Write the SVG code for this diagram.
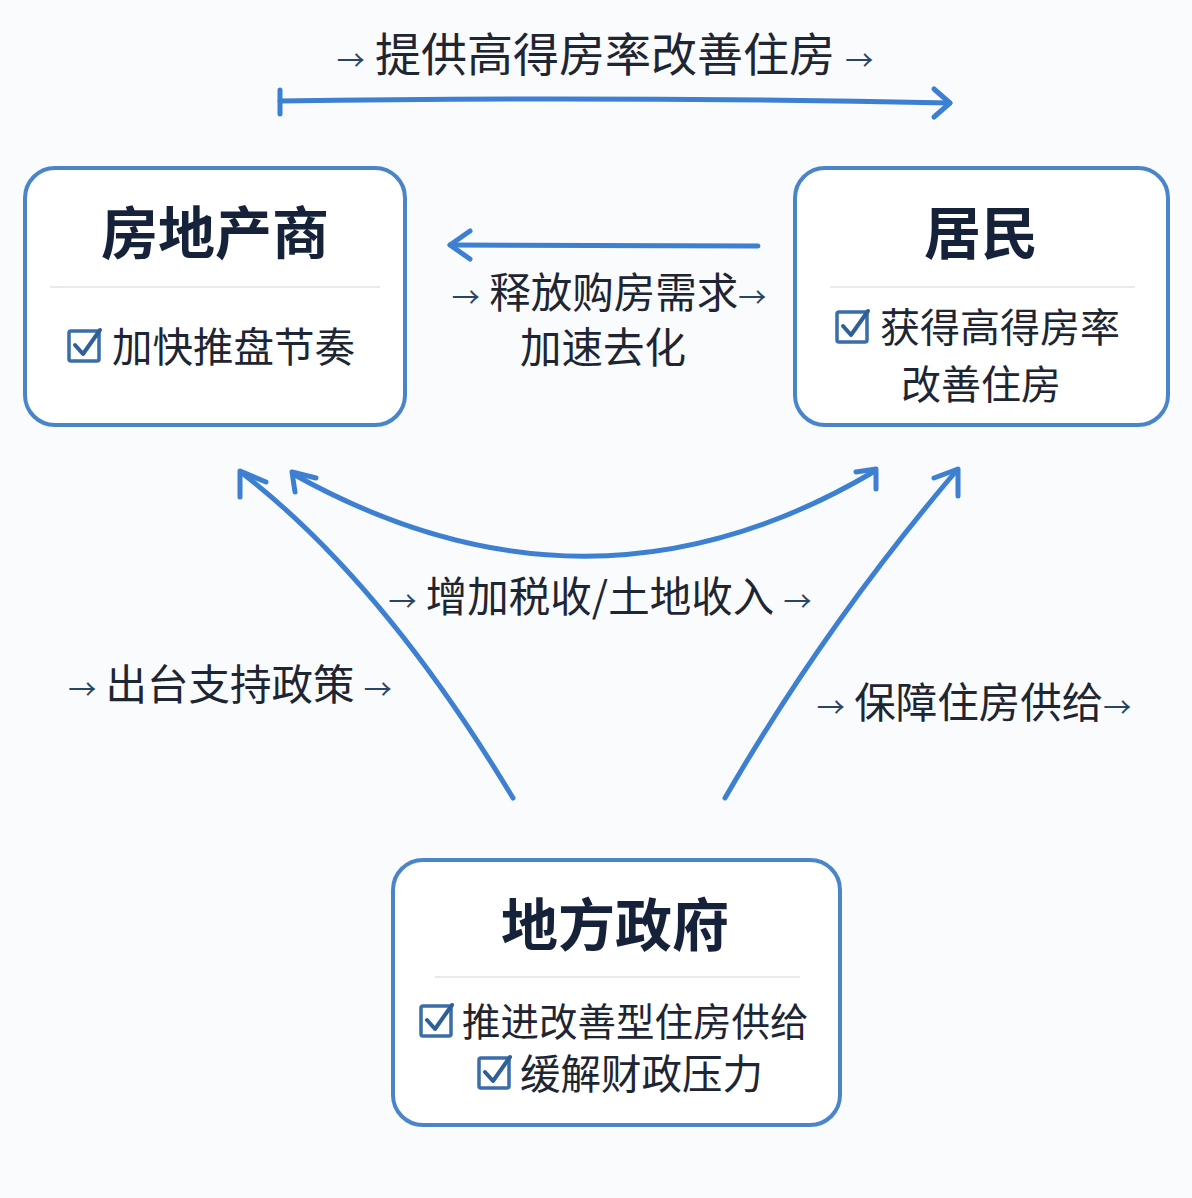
<svg xmlns="http://www.w3.org/2000/svg" width="1192" height="1198" viewBox="0 0 1192 1198">
<defs>
<style>
.box{fill:#ffffff;stroke:#4a85c9;stroke-width:4}
.div{stroke:#e6e9ee;stroke-width:2}
.title{font-family:"Noto Sans CJK SC","Noto Sans",sans-serif;font-weight:700;font-size:57px;fill:#16223a;text-anchor:middle}
.item{font-family:"Noto Sans CJK SC","Noto Sans",sans-serif;font-size:40.5px;fill:#1e2533}
.lbl{font-family:"Noto Sans CJK SC","Noto Sans",sans-serif;font-size:41.5px;fill:#1e2533}
.arr{font-size:28px;fill:#2a4466}
.con{fill:none;stroke:#3d7fd0;stroke-width:5;stroke-linecap:round;stroke-linejoin:round}
.cb{fill:none;stroke:#3a6ea8;stroke-width:3.5}
.ck{fill:none;stroke:#2f5f99;stroke-width:4;stroke-linecap:round;stroke-linejoin:round}
</style>
</defs>
<rect width="1192" height="1198" fill="#fafbfc"/>

<g id="connectors">
  <path class="con" d="M280,101 Q600,96 950,103"/>
  <path class="con" d="M280,90 L280,114"/>
  <path class="con" d="M934,89 L950,103 L934,117"/>
  <path class="con" d="M758,246 L450,245"/>
  <path class="con" d="M470,231 L450,245 L470,259"/>
  <path class="con" d="M513,798 Q383,582 242,473"/>
  <path class="con" d="M240,497 L240,471 L266,482"/>
  <path class="con" d="M725,798 Q825,625 957,470"/>
  <path class="con" d="M934,478 L958,469 L958,496"/>
  <path class="con" d="M293,474 Q590,640 875,471"/>
  <path class="con" d="M295,492 L292,472 L316,478"/>
  <path class="con" d="M856,472 L876,469 L876,489"/>
</g>

<g id="labels">
  <text class="lbl" x="605" y="71" text-anchor="middle" style="font-size:46px"><tspan class="arr">→</tspan> 提供高得房率改善住房 <tspan class="arr">→</tspan></text>
  <text class="lbl" x="609" y="308" text-anchor="middle"><tspan class="arr">→</tspan> 释放购房需求<tspan class="arr">→</tspan></text>
  <text class="lbl" x="603" y="363" text-anchor="middle">加速去化</text>
  <text class="lbl" x="600" y="612" text-anchor="middle"><tspan class="arr">→</tspan> 增加税收/土地收入 <tspan class="arr">→</tspan></text>
  <text class="lbl" x="230" y="700" text-anchor="middle"><tspan class="arr">→</tspan> 出台支持政策 <tspan class="arr">→</tspan></text>
  <text class="lbl" x="974" y="718" text-anchor="middle"><tspan class="arr">→</tspan> 保障住房供给<tspan class="arr">→</tspan></text>
</g>

<g id="node-developers">
  <rect class="box" x="25" y="168" width="380" height="257" rx="30"/>
  <text class="title" x="215" y="254">房地产商</text>
  <line class="div" x1="50" y1="287" x2="380" y2="287"/>
  <rect class="cb" x="69" y="331" width="30" height="30" rx="2"/>
  <path class="ck" d="M75,345 L83,354 L100,330"/>
  <text class="item" x="112" y="362">加快推盘节奏</text>
</g>

<g id="node-residents">
  <rect class="box" x="795" y="168" width="373" height="257" rx="30"/>
  <text class="title" x="981" y="254">居民</text>
  <line class="div" x1="830" y1="287" x2="1135" y2="287"/>
  <rect class="cb" x="837" y="312" width="30" height="30" rx="2"/>
  <path class="ck" d="M843,326 L851,335 L868,311"/>
  <text class="item" x="880" y="342" style="font-size:40px">获得高得房率</text>
  <text class="item" x="981" y="399" text-anchor="middle" style="font-size:40px">改善住房</text>
</g>

<g id="node-government">
  <rect class="box" x="393" y="860" width="447" height="265" rx="30"/>
  <text class="title" x="615" y="946">地方政府</text>
  <line class="div" x1="435" y1="977" x2="800" y2="977"/>
  <rect class="cb" x="421" y="1006" width="30" height="30" rx="2"/>
  <path class="ck" d="M427,1020 L435,1029 L452,1005"/>
  <text class="item" x="462" y="1036" style="font-size:38.5px">推进改善型住房供给</text>
  <rect class="cb" x="479" y="1058" width="30" height="30" rx="2"/>
  <path class="ck" d="M485,1072 L493,1081 L510,1057"/>
  <text class="item" x="520" y="1089">缓解财政压力</text>
</g>
</svg>
